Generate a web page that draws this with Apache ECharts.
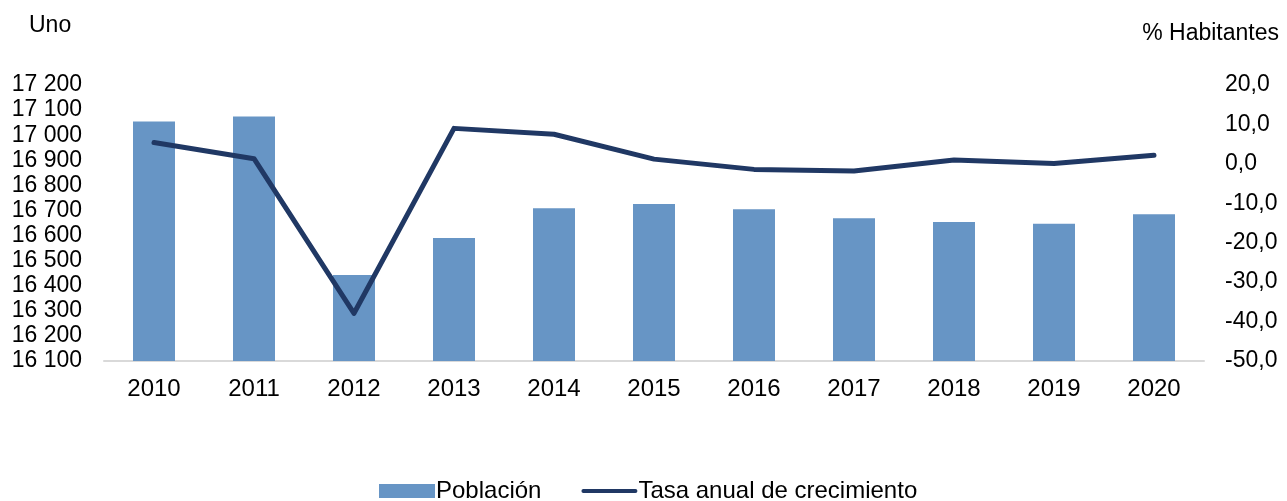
<!DOCTYPE html>
<html>
<head>
<meta charset="utf-8">
<script src="https://cdn.jsdelivr.net/npm/echarts@6/dist/echarts.min.js"></script>
<style>
  html, body { margin: 0; padding: 0; background: #fff; }
  #chart { width: 1287px; height: 501px; }
</style>
</head>
<body>
<div id="chart"></div>
<script>
// datos
const years = ['2010', '2011', '2012', '2013', '2014', '2015', '2016', '2017', '2018', '2019', '2020'];
const poblacion = [17055, 17074, 16443, 16590, 16709, 16726, 16705, 16669, 16654, 16647, 16685];
const tasa = [5.4, 1.3, -37.9, 9.0, 7.5, 1.2, -1.4, -1.8, 1.0, 0.1, 2.2];

const font = 'Liberation Sans, Arial, sans-serif';
// icono de linea para la leyenda (los "M" fijan la caja del icono)
const lineIcon = 'path://M0,0 M56,14 M2,5 L54,5 A2,2 0 0 1 54,9 L2,9 A2,2 0 0 1 2,5 Z';

const chart = echarts.init(document.getElementById('chart'));
chart.setOption({
  animation: false,
  textStyle: { fontFamily: font },
  title: [
    { text: 'Uno', left: 24, top: 9, textStyle: { fontSize: 23, fontWeight: 'normal', color: '#000', fontFamily: font } },
    { text: '% Habitantes', right: 3, top: 17, textStyle: { fontSize: 23, fontWeight: 'normal', color: '#000', fontFamily: font } }
  ],
  grid: { left: 104, right: 83, top: 85, bottom: 140 },
  legend: {
    top: 474,
    left: 374,
    itemWidth: 56,
    itemHeight: 14,
    itemGap: 40,
    textStyle: { fontSize: 24, color: '#000', fontFamily: font, padding: [0, 0, 0, -4] },
    data: [
      { name: 'Población', icon: 'rect' },
      { name: 'Tasa anual de crecimiento', icon: lineIcon, itemStyle: { color: '#203864' } }
    ]
  },
  xAxis: {
    type: 'category',
    data: years,
    axisLine: { onZero: false, lineStyle: { color: '#d9d9d9', width: 2 } },
    axisTick: { show: false },
    axisLabel: { color: '#000', fontSize: 24, margin: 16, fontFamily: font }
  },
  yAxis: [
    {
      type: 'value',
      min: 16100,
      max: 17200,
      interval: 100,
      splitLine: { show: false },
      axisLine: { show: false },
      axisTick: { show: false },
      axisLabel: {
        color: '#000', fontSize: 23, margin: 22, fontFamily: font,
        formatter: v => String(v).replace(/(\d+)(\d{3})$/, '$1 $2')
      }
    },
    {
      type: 'value',
      min: -50,
      max: 20,
      interval: 10,
      splitLine: { show: false },
      axisLine: { show: false },
      axisTick: { show: false },
      axisLabel: {
        color: '#000', fontSize: 23, margin: 21, fontFamily: font,
        formatter: v => v.toFixed(1).replace('.', ',')
      }
    }
  ],
  series: [
    {
      name: 'Población',
      type: 'bar',
      data: poblacion,
      barWidth: 42,
      itemStyle: { color: '#6795c5' }
    },
    {
      name: 'Tasa anual de crecimiento',
      type: 'line',
      yAxisIndex: 1,
      data: tasa,
      symbol: 'none',
      lineStyle: { color: '#203864', width: 5, cap: 'round', join: 'round' },
      itemStyle: { color: '#203864' }
    }
  ]
});
</script>
</body>
</html>
